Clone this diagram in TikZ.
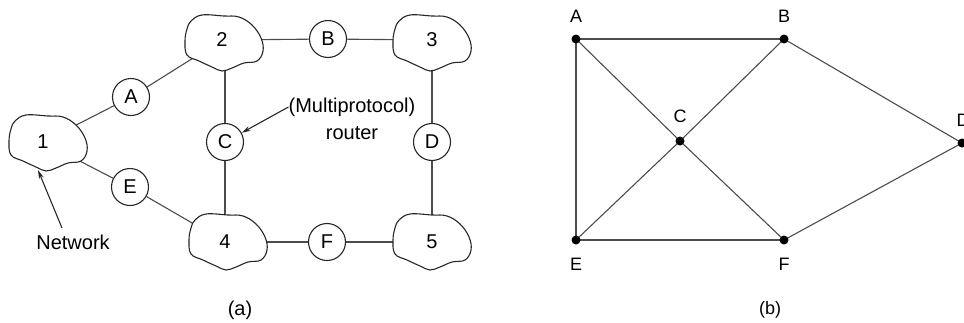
\documentclass[tikz,border=0pt]{standalone}
\usepackage{fontspec}
\setmainfont{Liberation Sans}
\usetikzlibrary{arrows.meta}
\pgfdeclarelayer{background}
\pgfsetlayers{background,main}
\newcommand\blobat[2]{%
  \begin{scope}[shift={(#1,#2)}]
    \draw[blobline] plot[smooth cycle, tension=0.65] coordinates {
      (-33,-22) (-22,-28) (0,-27) (15,-26) (28,-18) (37,-5) (39,8) (33,18)
      (20,20) (8,25) (-2,28) (-12,24) (-25,18) (-37,12) (-39,-2) (-37,-14)};
  \end{scope}}
\begin{document}
\begin{tikzpicture}[x=1pt,y=-1pt,
  font=\fontsize{20}{24}\selectfont,
  blobline/.style={line width=1.1pt,draw=black!85,fill=white},
  router/.style={circle,draw=black!85,fill=white,minimum size=37pt,inner sep=0pt,line width=1.1pt},
  link/.style={line width=1.1pt,draw=black!70},
  plain/.style={inner sep=0pt},
  pointer/.style={line width=1.1pt,draw=black!85,-{Stealth[length=9pt,width=5pt]}},
  dot/.style={circle,fill=black,inner sep=0pt,minimum size=9pt},
  edge/.style={line width=1.1pt,draw=black!70},
  blabel/.style={inner sep=0pt,font=\fontsize{18}{22}\selectfont}]
\useasboundingbox (0,0) rectangle (964,322);

% ---------- panel (a) ----------
\blobat{48}{143}
\blobat{224}{43}
\blobat{432}{43}
\blobat{228}{242}
\blobat{432}{242}
\node[plain] (n1) at (43,142) {1};
\node[plain] (n2) at (222,40) {2};
\node[plain] (n3) at (432,40) {3};
\node[plain] (n4) at (225,242) {4};
\node[plain] (n5) at (432,242) {5};

\node[router] (rA) at (131,97) {A};
\node[router] (rB) at (328,39) {B};
\node[router] (rC) at (225,142) {C};
\node[router] (rD) at (432,142) {D};
\node[router] (rE) at (130,187) {E};
\node[router] (rF) at (327,242) {F};

\begin{pgfonlayer}{background}
\draw[link] (n1.center) -- (rA) -- (n2.center);
\draw[link] (n2.center) -- (rB) -- (n3.center);
\draw[link] (rC.center |- n2.center) -- (rC) -- (rC.center |- n4.center);
\draw[link] (n3.center) -- (rD) -- (n5.center);
\draw[link] (n1.center) -- (rE) -- (n4.center);
\draw[link] (n4.center) -- (rF) -- (n5.center);
\end{pgfonlayer}

\node[plain] (mp) at (352,107) {(Multiprotocol)};
\node[plain] (rt) at (352,133) {router};
\draw[pointer] (mp.west) -- (rC);

\node[plain] (net) at (73,242) {Network};
\coordinate (netstart) at (62,228);
\coordinate (nettip) at (38,170);
\draw[pointer] (netstart) -- (nettip);

\node[plain] (capa) at (240,310) {(a)};

% ---------- panel (b) ----------
\node[dot] (pA) at (576,39) {};
\node[dot] (pB) at (784,39) {};
\node[dot] (pC) at (680,141) {};
\node[dot] (pD) at (962,143) {};
\node[dot] (pE) at (576,240) {};
\node[dot] (pF) at (784,240) {};

\begin{pgfonlayer}{background}
\draw[edge] (pA.center) -- (pB.center);
\draw[edge] (pA.center) -- (pE.center);
\draw[edge] (pE.center) -- (pF.center);
\draw[edge] (pA.center) -- (pC.center) -- (pF.center);
\draw[edge] (pE.center) -- (pC.center) -- (pB.center);
\draw[edge] (pB.center) -- (pD.center) -- (pF.center);
\end{pgfonlayer}

\node[blabel] (lA) at (576,16) {A};
\node[blabel] (lB) at (784,16) {B};
\node[blabel] (lC) at (680,116) {C};
\node[blabel] (lD) at (963,120) {D};
\node[blabel] (lE) at (576,264) {E};
\node[blabel] (lF) at (784,264) {F};
\node[blabel] (capb) at (770,310) {(b)};
\end{tikzpicture}
\end{document}
